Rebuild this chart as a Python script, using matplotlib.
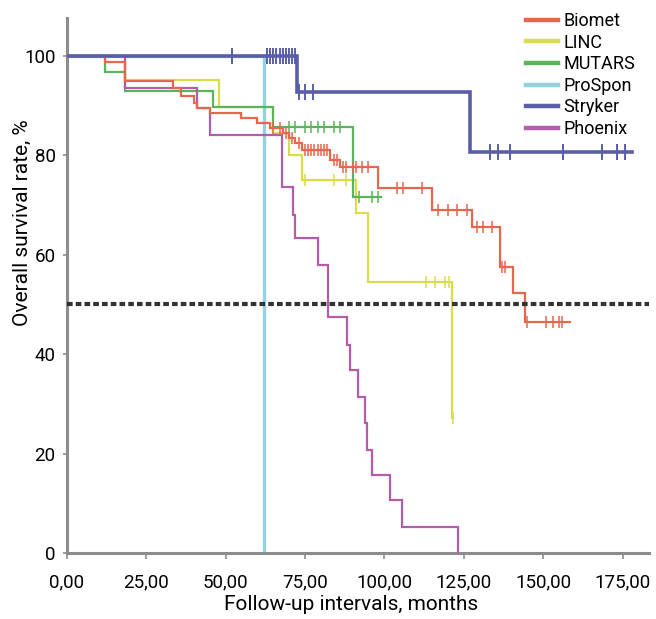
import numpy as np
import matplotlib
matplotlib.use("Agg")
import matplotlib.pyplot as plt
from matplotlib.lines import Line2D

plt.rcParams['font.family'] = ['Roboto', 'DejaVu Sans']

# ---------------- data ----------------
series_names = ['Biomet', 'LINC', 'MUTARS', 'ProSpon', 'Stryker', 'Phoenix']

biomet_t = [0, 12, 18.5, 33.5, 36, 40, 41, 45, 55, 60, 64, 68, 70, 72, 74, 83, 86,
            98, 115, 127.6, 136.4, 140.5, 144.3, 158.4]
biomet_s = [100, 98.8, 95, 93.5, 92, 90.5, 89.5, 88.5, 87.5, 86.5, 85.5, 84.5, 83.5,
            82.5, 81, 79, 77.7, 73.4, 69, 65.6, 57.5, 52.3, 46.5, 46.5]
biomet_c = [65, 67, 69, 71, 73, 75, 76, 77, 78, 79, 80, 81, 82, 84, 85, 87, 88, 90,
            91, 93, 95, 104, 106, 112, 117, 120, 123, 126, 129, 131, 134, 137, 138,
            145, 151, 153, 155, 156]

linc_t = [0, 18.5, 48, 65, 70, 74, 91, 95, 121.3, 121.5]
linc_s = [100, 95.2, 89.8, 84.5, 80, 75, 68.4, 54.5, 27.2, 27.2]
linc_c = [75, 84, 88, 113, 116, 119, 120.5, 121.5]

mutars_t = [0, 12, 18.5, 46, 65, 90, 99]
mutars_s = [100, 96.8, 93, 89.7, 85.7, 71.6, 71.6]
mutars_c = [70, 72, 75, 77, 79, 81, 84, 86, 92, 96, 98]

prospon_t = [0, 62.1]
prospon_s = [100, 0]
prospon_c = []

stryker_t = [0, 72.5, 127, 178]
stryker_s = [100, 92.8, 80.7, 80.7]
stryker_c = [52, 63, 64, 65, 66, 67, 68, 69, 70, 71, 72, 73.2, 75, 77.5,
             133.2, 135.8, 139.6, 156.2, 168.5, 173.2, 175.7]

phoenix_t = [0, 18.5, 41, 45, 67.8, 71.3, 71.9, 79, 82.3, 88.3, 89.2, 91.8, 93.9,
             94.4, 96, 101.8, 105.4, 123.3]
phoenix_s = [100, 93.5, 89.5, 84.1, 73.6, 68, 63.4, 58, 47.5, 41.9, 36.8, 31.4,
             26.1, 20.7, 15.7, 10.7, 5.3, 0]
phoenix_c = []

median_level = 50

x_ticks = [0, 25, 50, 75, 100, 125, 150, 175]
x_tick_labels = ['0,00', '25,00', '50,00', '75,00', '100,00', '125,00', '150,00', '175,00']
y_ticks = [0, 20, 40, 60, 80, 100]
y_tick_labels = ['0', '20', '40', '60', '80', '100']

colors = ['#e8654e', '#d9dd4c', '#5cb45a', '#94d0de', '#5a5ea8', '#b25caa']
widths = [1.6, 1.6, 1.6, 2.4, 2.6, 1.6]

# ---------------- figure ----------------
W, H = 656, 619
fig = plt.figure(figsize=(W / 100, H / 100), dpi=100)
ax = fig.add_axes([66.7 / W, 1 - 553 / H, (649 - 66.7) / W, (553 - 18) / H])
ax.set_xlim(0, 183.3)
ax.set_ylim(0, 107.6)

all_t = [biomet_t, linc_t, mutars_t, prospon_t, stryker_t, phoenix_t]
all_s = [biomet_s, linc_s, mutars_s, prospon_s, stryker_s, phoenix_s]
all_c = [biomet_c, linc_c, mutars_c, prospon_c, stryker_c, phoenix_c]
zorders = [4, 3, 3, 2, 5, 3]

def surv_at(t, s, x):
    t = np.asarray(t); s = np.asarray(s)
    idx = np.searchsorted(t, x, side='right') - 1
    return s[np.clip(idx, 0, len(s) - 1)]

ax.axhline(median_level, color='#333333', lw=3.0, dashes=(1.35, 0.75), zorder=6)

handles = []
for name, t, s, c, col, lw, z in zip(series_names, all_t, all_s, all_c, colors, widths, zorders):
    ax.step(t, s, where='post', color=col, lw=lw, zorder=z, solid_joinstyle='miter')
    if len(c):
        ax.plot(c, surv_at(t, s, np.asarray(c)), ls='none', marker='|',
                ms=11 if name == 'Stryker' else 9, mew=1.4 if name == 'Stryker' else 1.1,
                color=col, zorder=z)
    handles.append(Line2D([], [], color=col, lw=3.2, label=name))

for sp in ['top', 'right']:
    ax.spines[sp].set_visible(False)
for sp in ['left', 'bottom']:
    ax.spines[sp].set_color('#8c8c8c')
    ax.spines[sp].set_linewidth(2.2)

ax.set_xticks(x_ticks)
ax.set_xticklabels(x_tick_labels)
ax.set_yticks(y_ticks)
ax.set_yticklabels(y_tick_labels)
ax.tick_params(axis='x', length=4, width=1.2, color='#8c8c8c', pad=11, labelsize=13.5)
ax.tick_params(axis='y', length=3, width=1.2, color='#8c8c8c', pad=5, labelsize=13.5)

fig.text(22 / W, 1 - 223 / H, 'Overall survival rate, %', rotation=90,
         ha='center', va='center', fontsize=15)
fig.text(351 / W, 1 - 604 / H, 'Follow-up intervals, months',
         ha='center', va='center', fontsize=15)

ax.legend(handles=handles, loc='upper right', bbox_to_anchor=(635 / W, 1 - 12 / H),
          bbox_transform=fig.transFigure, frameon=False, fontsize=13,
          handlelength=1.75, handletextpad=0.3, labelspacing=0.2,
          borderaxespad=0, borderpad=0)

fig.savefig('out.png', dpi=100)
